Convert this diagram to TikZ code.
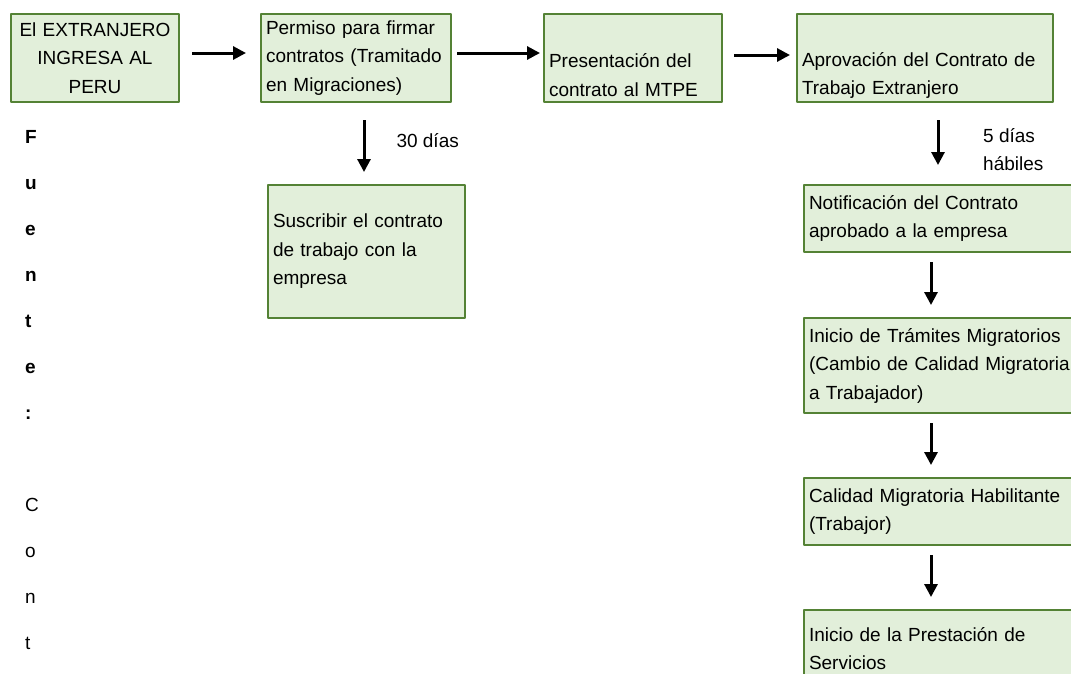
\documentclass[tikz,border=0pt]{standalone}
\usepackage{fontspec}
\setmainfont{Liberation Sans}
\usetikzlibrary{arrows.meta}
\definecolor{verdeborde}{RGB}{84,130,53}
\definecolor{verdefondo}{RGB}{226,239,218}

\begin{document}
\begin{tikzpicture}[x=1pt, y=-1pt, >={Triangle[length=13pt,width=13pt]},
	font=\fontsize{19}{28.5}\selectfont, line join=round,
	caja/.style={draw=verdeborde, fill=verdefondo, line width=2pt, anchor=north west,
		inner xsep=5pt, inner ysep=0pt, align=left},
	flecha/.style={->, line width=3pt},
	letra/.style={anchor=base west, inner sep=0pt}]
	\useasboundingbox (0,0) rectangle (1071,673);
	\coordinate (colA) at (938,0);
	\coordinate (colB) at (931,0);
	% fila de arriba
	\node[caja, align=center, text width=158pt, minimum height=88pt] (ingreso) at (10,13) {El EXTRANJERO\\INGRESA AL\\PERU};
	\node[caja, text width=180pt, minimum height=88pt] (permiso) at (260,13) {Permiso para firmar\\contratos (Tramitado\\en Migraciones)};
	\node[caja, text width=168pt, minimum height=88pt] (presentacion) at (543,13) {\strut\\Presentación del\\contrato al MTPE};
	\node[caja, text width=246pt, minimum height=88pt] (aprobacion) at (796,13) {\strut\\Aprovación del Contrato de\\Trabajo Extranjero};
	\draw[flecha, shorten <=12pt, shorten >=14pt] ([yshift=5pt]ingreso.east) -- ([yshift=5pt]permiso.west);
	\draw[flecha, shorten <=5pt, shorten >=3pt] ([yshift=5pt]permiso.east) -- ([yshift=5pt]presentacion.west);
	\draw[flecha, shorten <=11pt, shorten >=6pt] ([yshift=3pt]presentacion.east) -- ([yshift=3pt]aprobacion.west);
	% rama de migraciones
	\node[caja, text width=187pt, minimum height=133pt] (suscribir) at (267,184) {Suscribir el contrato\\de trabajo con la\\empresa};
	\draw[flecha, shorten <=17pt, shorten >=12pt] ([xshift=-2.5pt]suscribir.north |- permiso.south) -- ([xshift=-2.5pt]suscribir.north);
	\node[anchor=base west] (dias30) at (393,147) {30 días};
	% columna derecha
	\node[caja, text width=282pt, minimum height=67pt] (notificacion) at (803,184) {Notificación del Contrato\\aprobado a la empresa};
	\node[caja, text width=282pt, minimum height=95pt] (tramites) at (803,317) {Inicio de Trámites Migratorios\\(Cambio de Calidad Migratoria\\a Trabajador)};
	\node[caja, text width=282pt, minimum height=67pt] (calidad) at (803,477) {Calidad Migratoria Habilitante\\(Trabajor)};
	\node[caja, text width=282pt, minimum height=77pt] (prestacion) at (803,609) {Inicio de la Prestación de\\Servicios};
	\draw[flecha, shorten <=17pt, shorten >=19pt] (colA |- aprobacion.south) -- (colA |- notificacion.north);
	\node[anchor=north west, inner sep=0pt, align=left] (dias5) at (983,128) {5 días\\hábiles};
	\foreach \a/\b in {notificacion/tramites, tramites/calidad, calidad/prestacion}
		\draw[flecha, shorten <=9pt, shorten >=12pt] (colB |- \a.south) -- (colB |- \b.north);
	% texto vertical a la izquierda
	\foreach \ch [count=\i] in {F,u,e,n,t,e,:}
		\node[letra, font=\fontsize{19}{28.5}\selectfont\bfseries] (fu\i) at (25,{143+46*(\i-1)}) {\ch};
	\foreach \ch [count=\i] in {C,o,n,t}
		\node[letra] (co\i) at (25,{511+46*(\i-1)}) {\ch};
\end{tikzpicture}
\end{document}
